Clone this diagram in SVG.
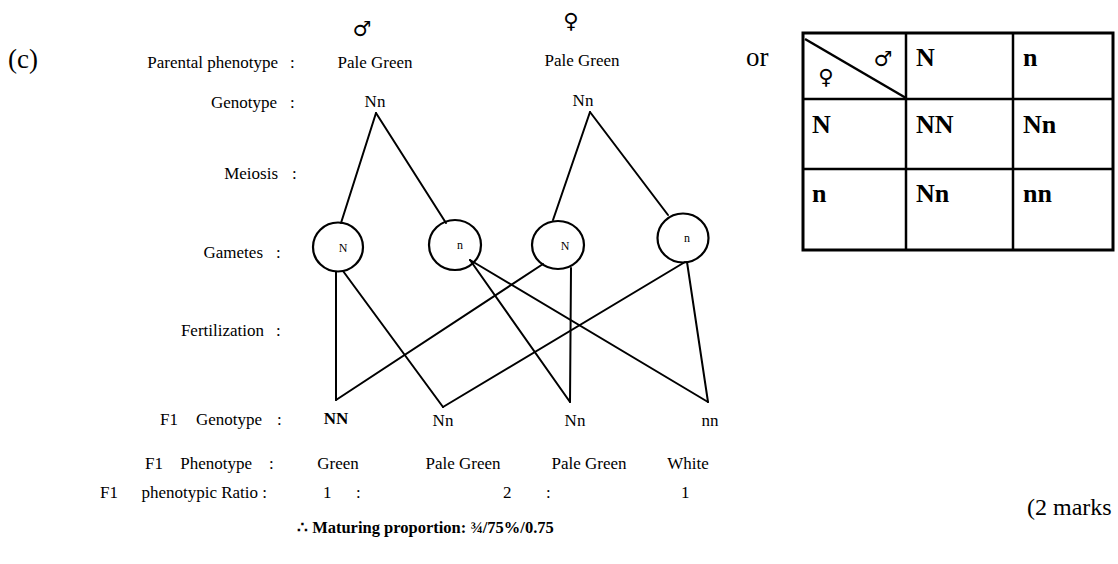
<svg xmlns="http://www.w3.org/2000/svg" width="1118" height="564" viewBox="0 0 1118 564">
<style>
.t{font-family:"Liberation Serif","Times New Roman",serif;font-size:17px;fill:#000}
.e{text-anchor:end}
.m{text-anchor:middle}
.sym{font-family:"DejaVu Sans",sans-serif;font-size:21px;fill:#000}
.big{font-family:"Liberation Serif","Times New Roman",serif;font-size:27px;fill:#000}
.pb{font-family:"Liberation Serif","Times New Roman",serif;font-size:26px;font-weight:bold;fill:#000}
.g{font-family:"Liberation Serif","Times New Roman",serif;font-size:12px;fill:#000;text-anchor:middle}
.b{font-weight:bold}
.ln{stroke:#000;stroke-width:2;fill:none;stroke-linecap:round}
.c{stroke:#000;stroke-width:2.2;fill:none}
.grid{stroke:#000;stroke-width:2.5;fill:none}
</style>
<rect width="1118" height="564" fill="#fff"/>

<g id="part-label">
<text class="big" x="8" y="68">(c)</text>
</g>

<g id="row-labels">
<text class="t e" x="278" y="68">Parental phenotype</text><text class="t" x="290" y="68">:</text>
<text class="t e" x="277" y="108">Genotype</text><text class="t" x="290" y="108">:</text>
<text class="t e" x="278" y="179">Meiosis</text><text class="t" x="292" y="179">:</text>
<text class="t e" x="263" y="258">Gametes</text><text class="t" x="276" y="258">:</text>
<text class="t e" x="264" y="336">Fertilization</text><text class="t" x="276" y="336">:</text>
<text class="t" x="160" y="425">F1</text><text class="t e" x="262" y="425">Genotype</text><text class="t" x="277" y="425">:</text>
<text class="t" x="145" y="469">F1</text><text class="t e" x="252" y="469">Phenotype</text><text class="t" x="269" y="469">:</text>
<text class="t" x="100" y="498">F1</text><text class="t e" x="267" y="498">phenotypic Ratio :</text>
</g>

<g id="parent-male">
<text class="sym m" x="362" y="36">♂</text>
<text class="t m" x="375" y="68">Pale Green</text>
<text class="t m" x="375" y="107">Nn</text>
</g>

<g id="parent-female">
<text class="sym m" x="571" y="28">♀</text>
<text class="t m" x="582" y="66">Pale Green</text>
<text class="t m" x="583" y="106">Nn</text>
</g>

<g id="connectors">
<line class="ln" x1="376" y1="113" x2="341" y2="223"/>
<line class="ln" x1="376" y1="113" x2="446" y2="223"/>
<line class="ln" x1="590" y1="112" x2="553" y2="220"/>
<line class="ln" x1="590" y1="112" x2="668" y2="215"/>
<line class="ln" x1="336" y1="272" x2="336" y2="400"/>
<line class="ln" x1="343" y1="271" x2="443" y2="407"/>
<line class="ln" x1="543" y1="264" x2="336" y2="400"/>
<line class="ln" x1="470" y1="260" x2="570" y2="402"/>
<line class="ln" x1="470" y1="260" x2="708" y2="402"/>
<line class="ln" x1="571" y1="268" x2="570" y2="402"/>
<line class="ln" x1="685" y1="262" x2="443" y2="407"/>
<line class="ln" x1="687" y1="262" x2="708" y2="402"/>
</g>

<g id="gamete-male-N">
<ellipse class="c" cx="338" cy="247" rx="25" ry="24.5"/>
<text class="g" x="343" y="252">N</text>
</g>
<g id="gamete-male-n">
<ellipse class="c" cx="455" cy="245" rx="26" ry="25"/>
<text class="g" x="460" y="249">n</text>
</g>
<g id="gamete-female-N">
<ellipse class="c" cx="558" cy="245" rx="26" ry="24"/>
<text class="g" x="565" y="250">N</text>
</g>
<g id="gamete-female-n">
<ellipse class="c" cx="683" cy="238" rx="25.5" ry="24.5"/>
<text class="g" x="687" y="242">n</text>
</g>

<g id="f1-NN">
<text class="t m b" x="336" y="424">NN</text>
<text class="t m" x="338" y="469">Green</text>
<text class="t" x="323" y="498">1</text>
<text class="t" x="356" y="498">:</text>
</g>
<g id="f1-Nn-1">
<text class="t m" x="443" y="426">Nn</text>
<text class="t m" x="463" y="469">Pale Green</text>
<text class="t" x="503" y="498">2</text>
<text class="t" x="546" y="498">:</text>
</g>
<g id="f1-Nn-2">
<text class="t m" x="575" y="426">Nn</text>
<text class="t m" x="589" y="469">Pale Green</text>
</g>
<g id="f1-nn">
<text class="t m" x="710" y="426">nn</text>
<text class="t m" x="688" y="469">White</text>
<text class="t" x="681" y="498">1</text>
</g>

<g id="conclusion">
<text class="t b" x="297" y="533" style="font-size:16.5px">∴ Maturing proportion: ¾/75%/0.75</text>
</g>

<g id="or-label">
<text class="big" x="746" y="66">or</text>
</g>

<g id="punnett-square">
<rect x="803" y="33" width="310" height="217" fill="none" stroke="#000" stroke-width="3"/>
<line class="grid" x1="906" y1="33" x2="906" y2="250"/>
<line class="grid" x1="1013" y1="33" x2="1013" y2="250"/>
<line class="grid" x1="803" y1="99" x2="1113" y2="99"/>
<line class="grid" x1="803" y1="169" x2="1113" y2="169"/>
<line class="grid" x1="805" y1="39" x2="906" y2="98"/>
<text class="sym m" x="883" y="66">♂</text>
<text class="sym m" x="826" y="84">♀</text>
<text class="pb" x="916" y="66">N</text>
<text class="pb" x="1023" y="66">n</text>
<text class="pb" x="812" y="133">N</text>
<text class="pb" x="916" y="133">NN</text>
<text class="pb" x="1023" y="133">Nn</text>
<text class="pb" x="812" y="202">n</text>
<text class="pb" x="916" y="202">Nn</text>
<text class="pb" x="1023" y="202">nn</text>
</g>

<g id="marks">
<text class="big" x="1027" y="515" style="font-size:24px">(2 marks</text>
</g>
</svg>
